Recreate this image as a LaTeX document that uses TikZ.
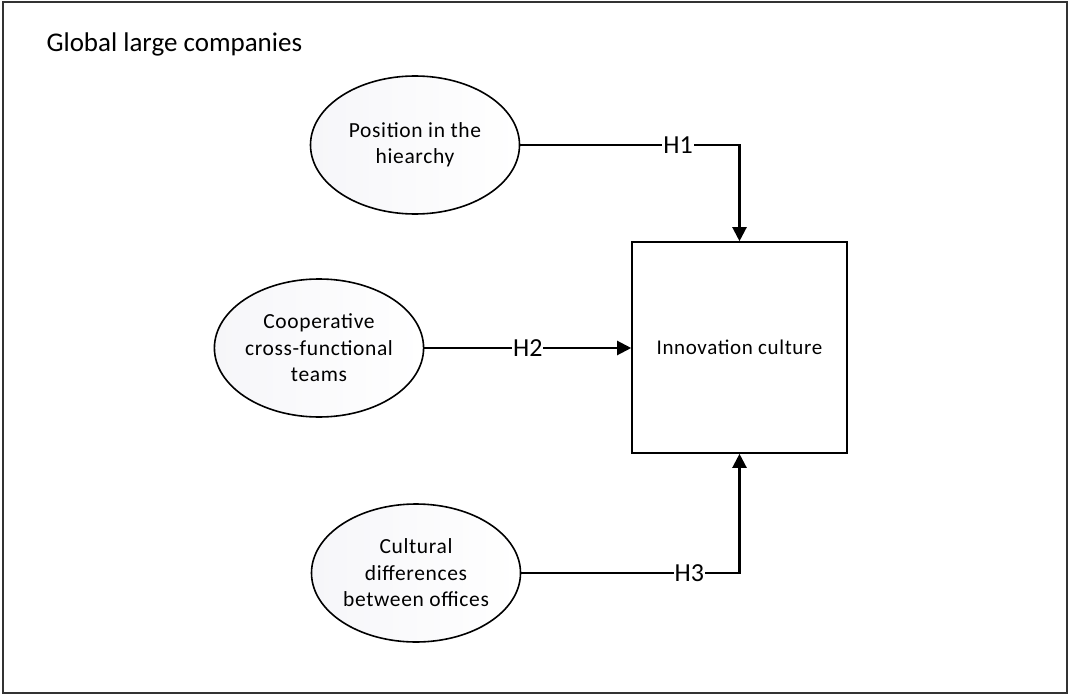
\documentclass[tikz,border=0pt]{standalone}
\usepackage{fontspec}
\setmainfont{Carlito}
\usetikzlibrary{arrows.meta,shapes.geometric}
\definecolor{ellgray}{RGB}{246,246,249}
\begin{document}
\begin{tikzpicture}[x=1pt,y=-1pt,
  factor/.style={ellipse,draw=black,line width=1.6pt,minimum width=209pt,minimum height=138pt,inner sep=0pt,
    left color=ellgray,right color=white,align=center,
    font=\fontsize{21.5}{26.5}\selectfont\addfontfeatures{LetterSpace=3}},
  outcome/.style={rectangle,draw=black,line width=1.6pt,minimum width=215pt,minimum height=211pt,inner sep=0pt,
    font=\fontsize{21}{26.5}\selectfont\addfontfeatures{LetterSpace=3}},
  link/.style={line width=2.2pt,-{Triangle[length=14pt,width=14pt]}},
  hlab/.style={fill=white,inner sep=1pt,font=\fontsize{26}{30}\selectfont}]
\useasboundingbox (0,0) rectangle (1070,695);
\draw[line width=2.6pt,draw=black!80] (3,2) rectangle (1067,693);
\node[anchor=base west,font=\fontsize{27}{31}\selectfont] (title) at (43,52) {Global large companies};
\node[factor] (e1) at (415,145) {Position in the\\hiearchy};
\node[factor] (e2) at (319,348) {Cooperative\\cross-functional\\teams};
\node[factor] (e3) at (416,573) {Cultural\\differences\\between offices};
\node[outcome] (ic) at (739.5,347.5) {Innovation culture};
\draw[link] (e1.east) -| node[hlab,pos=0.36] {H1} (ic.north);
\draw[link] (e2.east) -- node[hlab,pos=0.5] {H2} (ic.west |- e2.east);
\draw[link] (e3.east) -| node[hlab,pos=0.385] {H3} (ic.south);
\end{tikzpicture}
\end{document}
